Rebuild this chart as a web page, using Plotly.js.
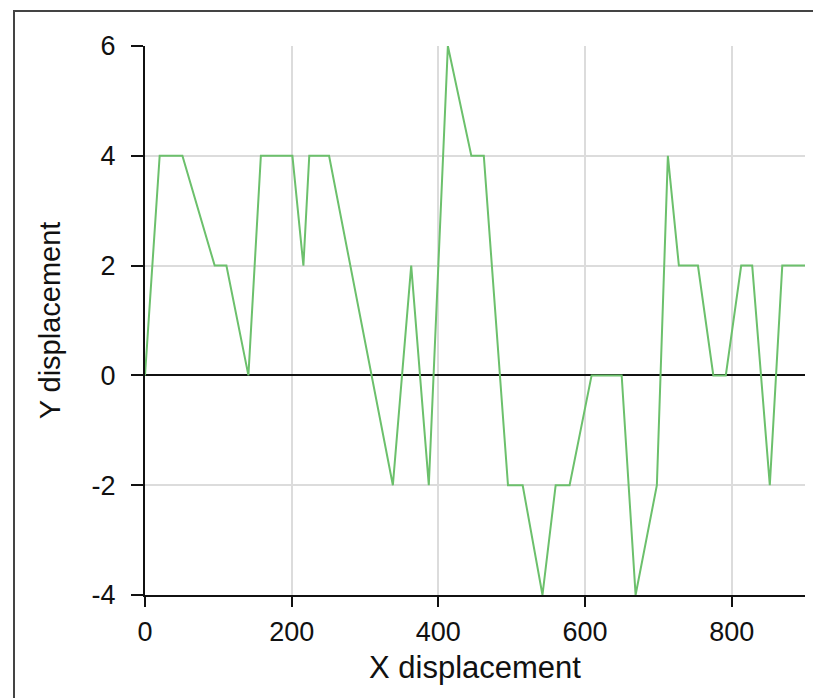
<!DOCTYPE html>
<html>
<head>
<meta charset="utf-8">
<script src="https://cdn.plot.ly/plotly-3.0.1.min.js"></script>
<style>
  html, body { margin: 0; padding: 0; background: #fff; }
  #frame { position: absolute; left: 13px; top: 10px; width: 820px; height: 720px;
           border-left: 2px solid #444; border-top: 2px solid #444; box-sizing: border-box; }
  #chart { position: absolute; left: 0; top: 0; width: 813px; height: 698px; }
</style>
</head>
<body>
<div id="frame"></div>
<div id="chart"></div>
<script>
// X displacement values
const xDisplacement = [0, 20, 51, 95, 111, 141, 158, 201, 216, 224, 251, 338, 363, 387, 413, 445, 462, 495, 515, 542, 560, 579, 609, 650, 669, 698, 713, 728, 754, 775, 792, 813, 828, 852, 869, 900];
// Y displacement values
const yDisplacement = [0, 4, 4, 2, 2, 0, 4, 4, 2, 4, 4, -2, 2, -2, 6, 4, 4, -2, -2, -4, -2, -2, 0, 0, -4, -2, 4, 2, 2, 0, 0, 2, 2, -2, 2, 2];
const xTicks = [0, 200, 400, 600, 800];
const yTicks = [-4, -2, 0, 2, 4, 6];

const trace = {
  x: xDisplacement,
  y: yDisplacement,
  type: 'scatter',
  mode: 'lines',
  line: { color: '#6cc06c', width: 2 },
  hoverinfo: 'x+y'
};

const fam = 'Liberation Sans, Arial, sans-serif';

const layout = {
  width: 813,
  height: 698,
  margin: { l: 145, r: 8, t: 46, b: 103 },
  paper_bgcolor: 'rgba(0,0,0,0)',
  plot_bgcolor: '#fff',
  showlegend: false,
  font: { family: fam, color: '#111' },
  xaxis: {
    range: [0, 900],
    tickvals: xTicks,
    ticktext: xTicks.map(String),
    ticks: 'outside', ticklen: 10, tickwidth: 2, tickcolor: '#111',
    ticklabelstandoff: 2,
    showline: true, linecolor: '#111', linewidth: 2,
    showgrid: true, gridcolor: '#dcdcdc', gridwidth: 2,
    zeroline: false,
    tickfont: { size: 27, family: fam, color: '#111' },
    title: { text: 'X displacement', font: { size: 31, family: fam, color: '#111' }, standoff: 10 }
  },
  yaxis: {
    range: [-4, 6],
    tickvals: yTicks,
    ticktext: yTicks.map(String),
    ticks: 'outside', ticklen: 12, tickwidth: 2, tickcolor: '#111',
    ticklabelstandoff: 10,
    showline: true, linecolor: '#111', linewidth: 2,
    showgrid: true, gridcolor: '#dcdcdc', gridwidth: 2,
    zeroline: true, zerolinecolor: '#111', zerolinewidth: 2,
    tickfont: { size: 27, family: fam, color: '#111' },
    title: { text: 'Y displacement', font: { size: 29, family: fam, color: '#111' }, standoff: 22 }
  }
};

Plotly.newPlot('chart', [trace], layout, { displayModeBar: false, staticPlot: true });
</script>
</body>
</html>
